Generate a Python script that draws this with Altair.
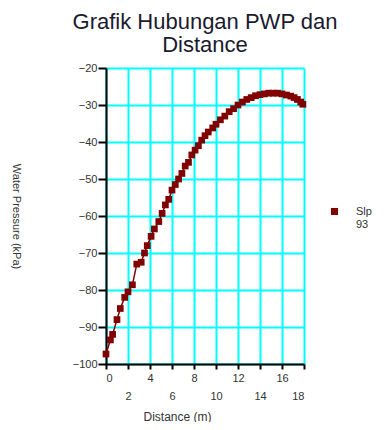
import altair as alt
import pandas as pd

distance = [0.0, 0.4, 0.6, 1.0, 1.3, 1.7, 2.0, 2.4, 2.8, 3.2, 3.5, 3.75, 4.1, 4.4, 4.8,
            5.1, 5.4, 5.7, 6.0, 6.3, 6.6, 6.9, 7.2, 7.5, 7.8, 8.1, 8.4, 8.7, 9.0, 9.3,
            9.7, 10.0, 10.4, 10.8, 11.2, 11.6, 12.0, 12.4, 12.8, 13.2, 13.6, 14.0, 14.4,
            14.8, 15.2, 15.6, 16.0, 16.4, 16.8, 17.1, 17.4, 17.7, 17.9]
pressure = [-97.3, -93.5, -92.0, -88.0, -85.0, -82.0, -80.5, -78.6, -73.0, -72.5, -70.0,
            -68.0, -65.5, -63.5, -61.5, -59.3, -57.0, -55.5, -53.0, -51.5, -50.0, -48.5,
            -46.5, -45.5, -43.5, -42.2, -41.0, -39.5, -38.3, -37.3, -36.2, -35.2, -34.0,
            -33.0, -31.8, -31.0, -30.0, -29.2, -28.5, -28.0, -27.5, -27.2, -27.0, -26.8,
            -26.8, -26.8, -27.0, -27.3, -27.6, -28.0, -28.5, -29.2, -29.8]
series_name = "Slp 93"
x_ticks = [0, 2, 4, 6, 8, 10, 12, 14, 16, 18]
y_ticks = [-100, -90, -80, -70, -60, -50, -40, -30, -20]

df = pd.DataFrame({"Distance": distance, "Pressure": pressure,
                   "Series": [series_name] * len(distance)})

DARK_RED = "#800000"
TXT = "#333333"

x_enc = alt.X("Distance:Q",
              scale=alt.Scale(domain=[0, 18], nice=False),
              axis=alt.Axis(values=x_ticks, title="Distance (m)", format="d",
                            labelOverlap=False, labelFont="Liberation Sans",
                            labelFontSize=11, labelColor=TXT,
                            labelPadding={"condition": {"test": "datum.value % 4 == 2", "value": 21},
                                          "value": 3},
                            titleFont="Liberation Sans", titleFontSize=12,
                            titleFontWeight="normal", titleColor=TXT,
                            titlePadding=10, titleX=71, titleAlign="center",
                            domainColor="black", domainWidth=2,
                            tickColor="black", tickWidth=2, tickSize=5,
                            gridColor="#00FFFF", gridWidth=2, gridOpacity=1))
y_enc = alt.Y("Pressure:Q",
              scale=alt.Scale(domain=[-100, -20], nice=False),
              axis=alt.Axis(values=y_ticks, title="Water Pressure (kPa)", format="d",
                            labelOverlap=False, labelFont="Liberation Sans",
                            labelFontSize=11, labelColor=TXT, labelPadding=1,
                            titleFont="Liberation Sans", titleFontSize=11,
                            titleFontWeight="normal", titleColor=TXT,
                            titleAngle=90, titlePadding=62,
                            domainColor="black", domainWidth=2,
                            tickColor="black", tickWidth=2, tickSize=8,
                            gridColor="#00FFFF", gridWidth=2, gridOpacity=1))

line = alt.Chart(df).mark_line(strokeWidth=1.5, color=DARK_RED).encode(
    x=x_enc, y=y_enc, order="Distance:Q")

points = alt.Chart(df).mark_point(shape="square", filled=True, size=45, opacity=1).encode(
    x=x_enc, y=y_enc,
    color=alt.Color("Series:N",
                    scale=alt.Scale(domain=[series_name], range=[DARK_RED]),
                    legend=alt.Legend(title=None, orient="none", legendX=223, legendY=138,
                                      symbolType="square", symbolSize=50, labelOffset=16,
                                      labelFont="Liberation Sans", labelFontSize=11,
                                      labelColor=TXT,
                                      labelExpr="split(datum.label, ' ')")))

chart = alt.layer(line, points).properties(
    width=198, height=296,
    padding={"left": 2, "top": 3, "right": 0, "bottom": 0},
    title=alt.TitleParams(["Grafik Hubungan PWP dan", "Distance"],
                          font="Liberation Sans", fontSize=22, fontWeight="normal",
                          color="#1a1a2e", anchor="middle", lineHeight=23, offset=5),
).configure_view(strokeWidth=0)

chart.save("out.html", embed_options={"renderer": "svg", "actions": False})
